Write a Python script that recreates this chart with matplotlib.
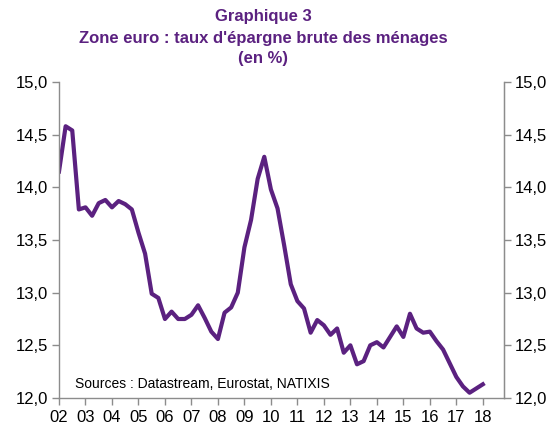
import numpy as np
import matplotlib
matplotlib.use("Agg")
import matplotlib.pyplot as plt
from matplotlib.ticker import FuncFormatter

plt.rcParams['font.family'] = ['Liberation Sans', 'DejaVu Sans']

# taux d'épargne brute des ménages, trimestriel 2002T1 - 2018T1
savings = [
    14.15, 14.58, 14.54, 13.79,   # 2002
    13.81, 13.73, 13.85, 13.88,   # 2003
    13.81, 13.87, 13.84, 13.79,   # 2004
    13.57, 13.37, 12.99, 12.95,   # 2005
    12.75, 12.82, 12.75, 12.75,   # 2006
    12.79, 12.88, 12.76, 12.63,   # 2007
    12.56, 12.81, 12.86, 13.00,   # 2008
    13.43, 13.69, 14.08, 14.29,   # 2009
    13.98, 13.80, 13.45, 13.08,   # 2010
    12.92, 12.85, 12.62, 12.74,   # 2011
    12.69, 12.60, 12.66, 12.43,   # 2012
    12.50, 12.32, 12.35, 12.50,   # 2013
    12.53, 12.48, 12.58, 12.68,   # 2014
    12.58, 12.80, 12.66, 12.62,   # 2015
    12.63, 12.54, 12.46, 12.33,   # 2016
    12.20, 12.11, 12.05, 12.09,   # 2017
    12.13,                        # 2018
]
years = list(range(2002, 2019))
year_labels = [f"{y % 100:02d}" for y in years]
y_ticks = [12.0, 12.5, 13.0, 13.5, 14.0, 14.5, 15.0]

purple = '#5B2180'
grey = '#8c8c8c'

x = 2002 + np.arange(len(savings)) * 0.25

fig = plt.figure(figsize=(5.53, 4.28), dpi=100)
ax = fig.add_axes([59 / 553, 1 - 398 / 428, 445 / 553, 316 / 428])
ax.plot(x, savings, color=purple, lw=3.0, solid_joinstyle='round')

ax.set_xlim(2002, 2018.8)
ax.set_ylim(12, 15)
ax.set_xticks(years)
ax.set_xticklabels(year_labels)
ax.set_yticks(y_ticks)
fmt = FuncFormatter(lambda v, p: f"{v:.1f}".replace('.', ','))
ax.yaxis.set_major_formatter(fmt)

ax.spines['top'].set_visible(False)
for s in ['left', 'right', 'bottom']:
    ax.spines[s].set_color(grey)
    ax.spines[s].set_linewidth(1.0)
ax.tick_params(axis='both', colors=grey, labelcolor='black', labelsize=12,
               length=5, width=1.0, direction='out')
ax.tick_params(axis='y', pad=3)
ax.tick_params(axis='x', pad=4)

ax2 = ax.twinx()
ax2.set_ylim(12, 15)
ax2.set_yticks(y_ticks)
ax2.yaxis.set_major_formatter(fmt)
ax2.spines['top'].set_visible(False)
ax2.spines['right'].set_color(grey)
ax2.spines['left'].set_visible(False)
ax2.spines['bottom'].set_visible(False)
ax2.tick_params(axis='y', colors=grey, labelcolor='black', labelsize=12,
                length=5, width=1.0, direction='out', pad=3)

ax.text(2002.6, 12.13, "Sources : Datastream, Eurostat, NATIXIS",
        fontsize=10, color='black', va='center', ha='left')

title_kw = dict(ha='center', va='center', color=purple, fontsize=12, fontweight='bold')
fig.text(263 / 553, 1 - 16 / 428, "Graphique 3", **title_kw)
fig.text(263 / 553, 1 - 38 / 428, "Zone euro : taux d'épargne brute des ménages", **title_kw)
fig.text(263 / 553, 1 - 58 / 428, "(en %)", **title_kw)

fig.savefig("out.png", dpi=100)
